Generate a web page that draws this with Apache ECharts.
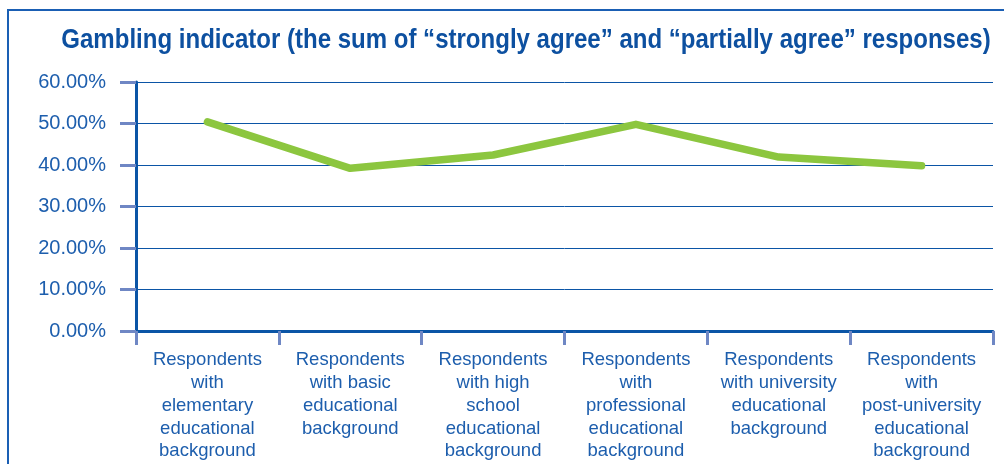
<!DOCTYPE html>
<html>
<head>
<meta charset="utf-8">
<script src="https://cdn.jsdelivr.net/npm/echarts@6/dist/echarts.min.js"></script>
<style>
html,body{margin:0;padding:0;background:#fff;}
#chart{width:1004px;height:464px;}
</style>
</head>
<body>
<div id="chart"></div>
<script>
const titleText = 'Gambling indicator (the sum of \u201cstrongly agree\u201d and \u201cpartially agree\u201d responses)';
const categories = [
  'Respondents\nwith\nelementary\neducational\nbackground',
  'Respondents\nwith basic\neducational\nbackground',
  'Respondents\nwith high\nschool\neducational\nbackground',
  'Respondents\nwith\nprofessional\neducational\nbackground',
  'Respondents\nwith university\neducational\nbackground',
  'Respondents\nwith\npost-university\neducational\nbackground'
];
const values = [0.504, 0.392, 0.424, 0.498, 0.419, 0.398];
const yMin = 0, yMax = 0.6, yStep = 0.1;

const blue = '#0b55a6';
const textBlue = '#1d5ead';
const tickBlue = '#6f87c4';
const sans = '"Liberation Sans", Arial, Helvetica, sans-serif';

const chart = echarts.init(document.getElementById('chart'), null, {renderer: 'canvas'});
chart.setOption({
  animation: false,
  backgroundColor: '#fff',
  graphic: [{
    type: 'rect',
    shape: {x: 8, y: 10, width: 1010, height: 470},
    style: {fill: 'none', stroke: '#1a5fb4', lineWidth: 2},
    silent: true
  }, {
    type: 'text',
    x: 526, y: 41,
    scaleX: 0.89, scaleY: 1,
    silent: true,
    style: {
      text: titleText,
      fontFamily: sans, fontWeight: 'bold', fontSize: 27,
      fill: '#0d50a0', align: 'center', verticalAlign: 'middle'
    }
  }],
  grid: {left: 136, right: 11, top: 82, bottom: 133, containLabel: false},
  xAxis: {
    type: 'category',
    data: categories,
    boundaryGap: true,
    axisLine: {show: true, lineStyle: {color: blue, width: 3}},
    axisTick: {show: true, length: 14, lineStyle: {color: tickBlue, width: 3}},
    axisLabel: {
      interval: 0, margin: 18,
      fontFamily: sans, fontSize: 18.5, color: textBlue, lineHeight: 22.7
    },
    splitLine: {show: false}
  },
  yAxis: {
    type: 'value',
    min: yMin, max: yMax, interval: yStep,
    axisLine: {show: true, lineStyle: {color: blue, width: 3}},
    axisTick: {show: true, length: 16, lineStyle: {color: tickBlue, width: 3}},
    axisLabel: {
      margin: 30, fontFamily: sans, fontSize: 20, color: textBlue,
      padding: [5, 0, 0, 0],
      formatter: v => (v * 100).toFixed(2) + '%'
    },
    splitLine: {show: true, lineStyle: {color: blue, width: 1}}
  },
  series: [{
    type: 'line',
    data: values,
    symbol: 'none',
    lineStyle: {color: '#8cc63f', width: 7.5, cap: 'round', join: 'round'}
  }]
});
</script>
</body>
</html>
